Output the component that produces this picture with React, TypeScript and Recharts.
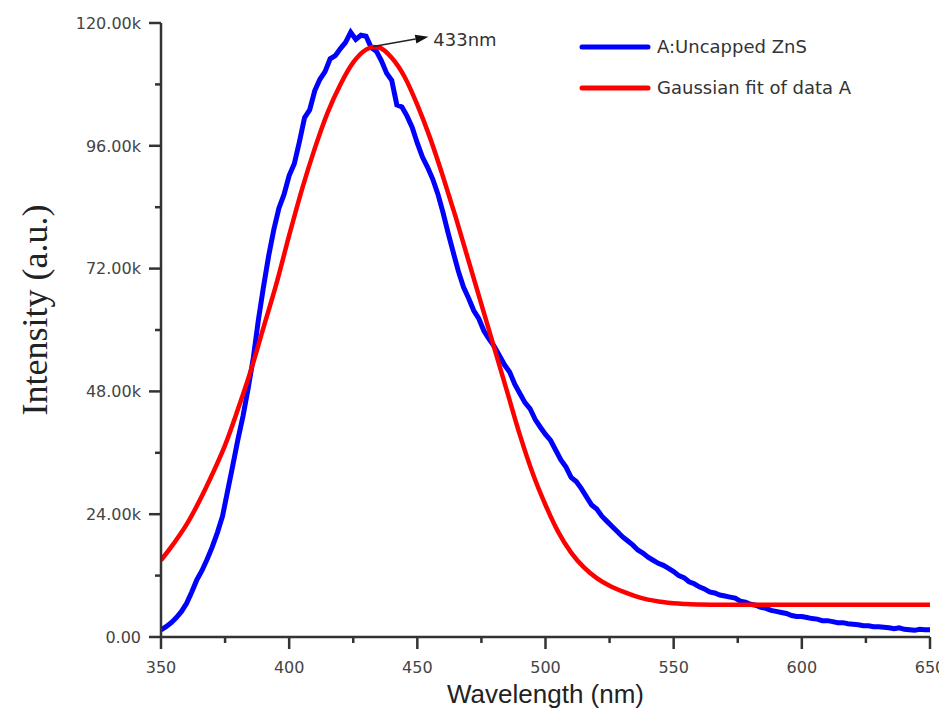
import React from "react";
import { LineChart, Line, XAxis, YAxis, ReferenceLine } from "recharts";

// blue: measured PL spectrum (intensity in thousands of counts)
const blueWavelength = [
  350, 352, 354, 356, 358, 360, 362, 364, 366, 368,
  370, 372, 374, 376, 378, 380, 382, 384, 386, 388,
  390, 392, 394, 396, 398, 400, 402, 404, 406, 408,
  410, 412, 414, 416, 418, 420, 422, 424, 426, 428,
  430, 432, 434, 436, 438, 440, 442, 444, 446, 448,
  450, 452, 454, 456, 458, 460, 462, 464, 466, 468,
  470, 472, 474, 476, 478, 480, 482, 484, 486, 488,
  490, 492, 494, 496, 498, 500, 502, 504, 506, 508,
  510, 512, 514, 516, 518, 520, 522, 524, 526, 528,
  530, 532, 534, 536, 538, 540, 542, 544, 546, 548,
  550, 552, 554, 556, 558, 560, 562, 564, 566, 568,
  570, 572, 574, 576, 578, 580, 582, 584, 586, 588,
  590, 592, 594, 596, 598, 600, 602, 604, 606, 608,
  610, 612, 614, 616, 618, 620, 622, 624, 626, 628,
  630, 632, 634, 636, 638, 640, 642, 644, 646, 648,
  650,
];
const blueIntensity = [
  1.4, 2.0, 2.8, 3.8, 5.0, 6.6, 8.8, 11.2, 13.0, 15.2,
  17.6, 20.4, 23.6, 28.6, 33.5, 38.6, 43.2, 48.6, 54.5, 62.0,
  68.5, 74.5, 79.6, 83.8, 86.5, 90.2, 92.5, 96.8, 101.5, 103.0,
  106.8, 109.0, 110.5, 113.0, 113.6, 115.0, 116.2, 118.2, 116.8, 117.6,
  117.4, 115.2, 114.5, 112.6, 110.2, 108.8, 104.0, 103.6, 101.8, 99.6,
  96.5, 93.8, 91.8, 89.5, 86.6, 83.0, 79.0, 75.2, 71.5, 68.4,
  66.2, 63.8, 62.2, 59.8, 58.2, 56.8, 55.0, 53.2, 51.8, 49.4,
  47.6, 45.8, 44.6, 42.5, 41.0, 39.6, 38.4, 36.5, 34.6, 33.2,
  31.2, 30.4, 29.0, 27.4, 25.8, 25.0, 23.6, 22.6, 21.6, 20.6,
  19.6, 18.8, 18.0, 17.0, 16.4, 15.6, 15.0, 14.4, 14.0, 13.4,
  12.8, 12.0, 11.6, 10.8, 10.4, 9.8, 9.4, 8.8, 8.6, 8.2,
  8.0, 7.8, 7.6, 7.0, 6.8, 6.4, 6.2, 5.8, 5.6, 5.2,
  5.0, 4.8, 4.6, 4.2, 4.0, 4.0, 3.8, 3.6, 3.5, 3.2,
  3.2, 3.0, 2.8, 2.8, 2.6, 2.5, 2.4, 2.2, 2.2, 2.0,
  2.0, 1.9, 1.8, 1.6, 1.8, 1.5, 1.4, 1.3, 1.5, 1.4,
  1.4,
];

// red: gaussian fit
const fitWavelength = [
  350, 355, 360, 365, 370, 375, 380, 385, 390, 395,
  400, 405, 410, 415, 420, 425, 430, 433, 435, 440,
  445, 450, 455, 460, 465, 470, 475, 480, 485, 490,
  495, 500, 505, 510, 515, 520, 525, 530, 535, 540,
  545, 550, 555, 560, 570, 580, 600, 625, 650,
];
const fitIntensity = [
  15.0, 18.3, 22.0, 26.6, 31.8, 37.5, 44.5, 52.0, 60.5, 69.0,
  78.5, 87.5, 95.5, 102.5, 108.0, 112.3, 114.8, 115.3, 115.2, 113.2,
  109.5, 104.0, 97.5, 90.0, 82.0, 73.5, 65.0, 56.5, 48.0, 39.5,
  32.0, 25.8, 20.5, 16.5, 13.6, 11.5, 10.0, 8.9, 8.0, 7.3,
  6.9, 6.6, 6.45, 6.35, 6.3, 6.3, 6.3, 6.3, 6.3,
];

const xTicks = [350, 375, 400, 425, 450, 475, 500, 525, 550, 575, 600, 625, 650];
const yTicks = [0, 12, 24, 36, 48, 60, 72, 84, 96, 108, 120];

const seriesNames = ["A:Uncapped ZnS", "Gaussian fit of data A"];
const peakLabel = "433nm";
const arrowFrom = { x: 432.8, y: 115.4 };
const arrowTo = { x: 454.3, y: 117.3 };

const BLUE = "#0000ff";
const RED = "#ff0000";
const AXIS = "#333";

const blueData = blueWavelength.map((wl, i) => ({ wl, v: blueIntensity[i] }));
const fitData = fitWavelength.map((wl, i) => ({ wl, v: fitIntensity[i] }));

const fmtY = (v: number) => (v === 0 ? "0.00" : `${v.toFixed(2)}k`);

const YTick = (props: any) => {
  const { x, y, payload } = props;
  const major = payload.value % 24 === 0;
  return (
    <g>
      <line x1={x} x2={x - (major ? 12 : 6)} y1={y} y2={y} stroke={AXIS} strokeWidth={2.5} />
      {major && (
        <text x={x - 20} y={y} dy="0.36em" textAnchor="end" fontFamily="DejaVu Sans" fontSize={16} fill="#444">
          {fmtY(payload.value)}
        </text>
      )}
    </g>
  );
};

const XTick = (props: any) => {
  const { x, y, payload } = props;
  const major = payload.value % 50 === 0;
  return (
    <g>
      <line x1={x} x2={x} y1={y} y2={y + (major ? 12 : 6)} stroke={AXIS} strokeWidth={2.5} />
      {major && (
        <text x={x} y={y + 36} textAnchor="middle" fontFamily="DejaVu Sans" fontSize={16} fill="#444">
          {payload.value}
        </text>
      )}
    </g>
  );
};

const PeakArrow = (props: any) => {
  const { x1, y1, x2, y2 } = props;
  const a = Math.atan2(y2 - y1, x2 - x1);
  const len = 13;
  const hw = 4.5;
  const bx = x2 - len * Math.cos(a);
  const by = y2 - len * Math.sin(a);
  const px = -Math.sin(a) * hw;
  const py = Math.cos(a) * hw;
  return (
    <g>
      <line x1={x1} y1={y1} x2={bx} y2={by} stroke="#222" strokeWidth={1.5} />
      <polygon points={`${x2},${y2} ${bx + px},${by + py} ${bx - px},${by - py}`} fill="#111" />
      <text x={x2 + 5} y={y2 + 9} fontFamily="DejaVu Sans" fontSize={18} fill="#333">
        {peakLabel}
      </text>
    </g>
  );
};

export default function App() {
  return (
    <div style={{ position: "relative", width: 939, height: 700, background: "#fff" }}>
      <LineChart width={939} height={700} margin={{ top: 15, right: 17, bottom: 31, left: 53 }}>
        <XAxis
          dataKey="wl"
          type="number"
          domain={[350, 650]}
          ticks={xTicks}
          interval={0}
          allowDataOverflow
          height={40}
          tickSize={0}
          tickMargin={0}
          tickLine={false}
          axisLine={{ stroke: AXIS, strokeWidth: 2.5 }}
          tick={<XTick />}
        />
        <YAxis
          type="number"
          domain={[0, 120]}
          ticks={yTicks}
          interval={0}
          allowDataOverflow
          width={100}
          tickSize={0}
          tickMargin={0}
          tickLine={false}
          axisLine={{ stroke: AXIS, strokeWidth: 2.5 }}
          tick={<YTick />}
        />
        <Line
          data={blueData}
          dataKey="v"
          type="linear"
          stroke={BLUE}
          strokeWidth={5}
          dot={false}
          isAnimationActive={false}
        />
        <Line
          data={fitData}
          dataKey="v"
          type="monotone"
          stroke={RED}
          strokeWidth={4.5}
          dot={false}
          isAnimationActive={false}
        />
        <ReferenceLine segment={[arrowFrom, arrowTo]} shape={<PeakArrow />} ifOverflow="visible" />
      </LineChart>
      <svg width={939} height={700} style={{ position: "absolute", left: 0, top: 0, pointerEvents: "none" }}>
        <line x1={574} x2={640} y1={39} y2={39} stroke={BLUE} strokeWidth={5} strokeLinecap="round" />
        <text x={649} y={39} dy="0.36em" fontFamily="DejaVu Sans" fontSize={18} fill="#333">
          {seriesNames[0]}
        </text>
        <line x1={574} x2={640} y1={80} y2={80} stroke={RED} strokeWidth={5} strokeLinecap="round" />
        <text x={649} y={80} dy="0.36em" fontFamily="DejaVu Sans" fontSize={18} fill="#333">
          {seriesNames[1]}
        </text>
        <text
          transform="translate(26,302) rotate(-90)"
          textAnchor="middle"
          dy="0.35em"
          fontFamily="Liberation Serif"
          fontSize={36}
          fill="#222"
        >
          Intensity (a.u.)
        </text>
        <text x={537.5} y={695} textAnchor="middle" fontFamily="Liberation Sans" fontSize={26} fill="#222">
          Wavelength (nm)
        </text>
      </svg>
    </div>
  );
}
